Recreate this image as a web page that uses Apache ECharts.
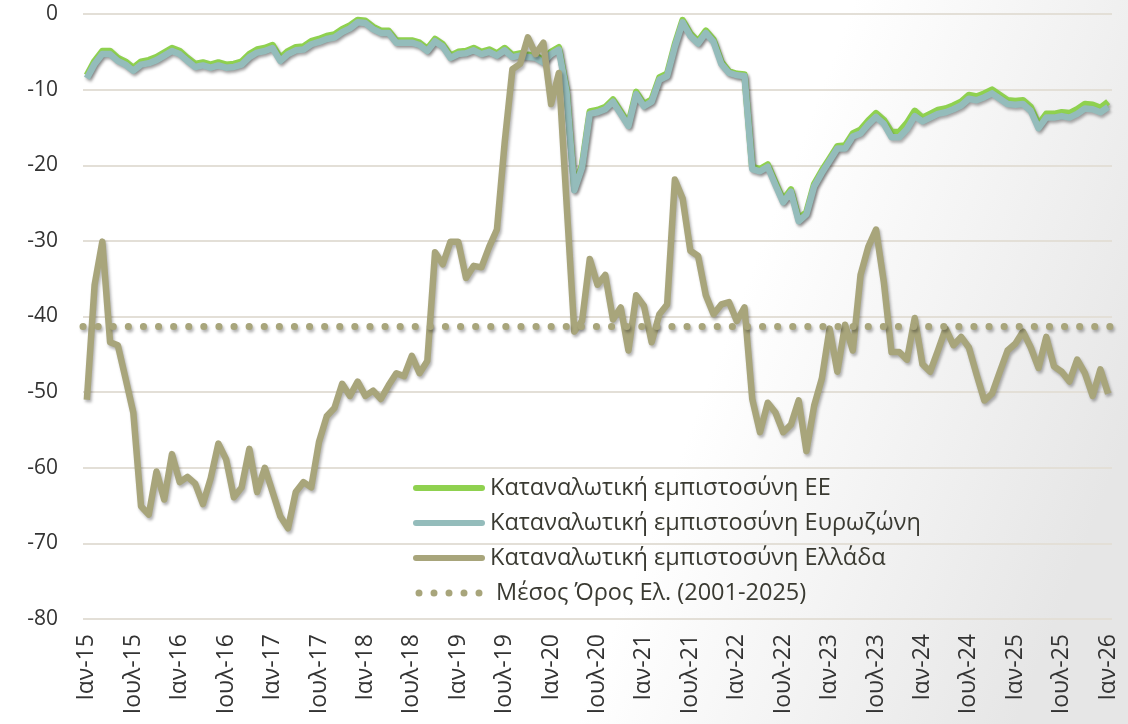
<!DOCTYPE html>
<html>
<head>
<meta charset="utf-8">
<script src="https://cdn.jsdelivr.net/npm/echarts@6/dist/echarts.min.js"></script>
<style>
  html, body { margin: 0; padding: 0; background: #fff; }
  #main { width: 1128px; height: 724px; }
</style>
</head>
<body>
<div id="main"></div>
<script>
// monthly, Ιαν-15 .. Ιαν-26
var monthNames = ['Ιαν', 'Φεβ', 'Μαρ', 'Απρ', 'Μαϊ', 'Ιουν', 'Ιουλ', 'Αυγ', 'Σεπ', 'Οκτ', 'Νοε', 'Δεκ'];
var startYear = 2015;
var monthCount = 133;

var seriesNames = [
    'Καταναλωτική εμπιστοσύνη ΕΕ',
    'Καταναλωτική εμπιστοσύνη Ευρωζώνη',
    'Καταναλωτική εμπιστοσύνη Ελλάδα',
    ' Μέσος Όρος Ελ. (2001-2025)'
];

var euValues = [
    -8.1, -6.2, -4.9, -4.9, -5.8, -6.3, -7.1, -6.3, -6.1, -5.7, -5.1, -4.5,
    -4.9, -5.8, -6.6, -6.4, -6.7, -6.4, -6.7, -6.6, -6.3, -5.3, -4.7, -4.5,
    -4.1, -5.8, -4.9, -4.4, -4.3, -3.6, -3.3, -2.9, -2.7, -2.0, -1.5, -0.8,
    -0.9, -1.7, -2.2, -2.2, -3.5, -3.5, -3.5, -3.8, -4.6, -3.3, -4.0, -5.5,
    -5.0, -4.9, -4.5, -5.0, -4.7, -5.2, -4.5, -5.4, -5.2, -5.4, -5.5, -6.1,
    -5.0, -4.4, -10.0, -23.0, -20.0, -12.9, -12.7, -12.3, -11.3, -12.9, -14.5, -10.3,
    -11.9, -11.3, -8.4, -7.9, -4.0, -0.8, -2.6, -3.6, -2.2, -3.4, -6.3, -7.6,
    -7.9, -8.0, -20.2, -20.5, -19.9, -22.3, -24.6, -23.2, -27.1, -26.2, -22.5, -20.7,
    -19.1, -17.5, -17.4, -15.8, -15.3, -14.1, -13.1, -14.0, -15.6, -15.6, -14.4, -12.8,
    -13.7, -13.2, -12.7, -12.5, -12.1, -11.6, -10.7, -10.9, -10.5, -10.0, -10.7, -11.4,
    -11.5, -11.4, -12.3, -14.6, -13.2, -13.2, -13.0, -13.1, -12.6, -11.9, -12.0, -12.4,
    -11.6
];

var eaValues = [
    -8.5, -6.6, -5.3, -5.3, -6.2, -6.7, -7.5, -6.7, -6.5, -6.1, -5.5, -4.9,
    -5.3, -6.2, -7.0, -6.8, -7.1, -6.8, -7.1, -7.0, -6.7, -5.7, -5.1, -4.9,
    -4.5, -6.2, -5.3, -4.8, -4.7, -4.0, -3.7, -3.3, -3.1, -2.4, -1.9, -1.1,
    -1.2, -2.0, -2.5, -2.5, -3.8, -3.8, -3.8, -4.1, -4.9, -3.6, -4.3, -5.8,
    -5.3, -5.2, -4.8, -5.3, -5.0, -5.5, -4.8, -5.7, -5.5, -5.7, -5.8, -6.4,
    -5.3, -4.7, -10.3, -23.3, -20.3, -13.2, -13.0, -12.6, -11.6, -13.2, -14.8, -10.6,
    -12.2, -11.6, -8.7, -8.2, -4.3, -1.1, -2.9, -3.9, -2.5, -3.7, -6.6, -7.8,
    -8.1, -8.2, -20.5, -20.8, -20.2, -22.6, -24.9, -23.5, -27.4, -26.5, -22.8, -21.0,
    -19.4, -17.8, -17.8, -16.2, -15.8, -14.6, -13.6, -14.5, -16.3, -16.3, -15.2, -13.5,
    -14.2, -13.7, -13.2, -13.0, -12.6, -12.1, -11.2, -11.4, -11.0, -10.5, -11.2, -11.9,
    -12.0, -11.9, -12.8, -15.1, -13.7, -13.7, -13.5, -13.7, -13.2, -12.5, -12.6, -13.0,
    -12.3
];

var grValues = [
    -51.0, -35.8, -30.1, -43.4, -43.8, -48.2, -52.7, -65.1, -66.2, -60.5, -64.2, -58.2,
    -61.9, -61.2, -62.1, -64.8, -61.4, -56.8, -58.9, -63.9, -62.6, -57.5, -63.2, -60.0,
    -63.2, -66.4, -68.0, -63.2, -61.9, -62.6, -56.6, -53.2, -52.1, -48.9, -50.5, -48.6,
    -50.5, -49.8, -50.9, -49.1, -47.5, -47.9, -45.2, -47.5, -45.9, -31.5, -33.1, -30.1,
    -30.1, -34.9, -33.3, -33.5, -30.8, -28.5, -17.0, -7.3, -6.6, -3.1, -5.3, -3.8,
    -11.9, -7.8, -25.0, -42.0, -40.6, -32.4, -35.8, -34.5, -40.4, -38.8, -44.5, -37.2,
    -38.6, -43.4, -39.7, -38.4, -21.9, -24.4, -31.3, -32.0, -37.2, -39.7, -38.4, -38.1,
    -40.6, -38.8, -50.9, -55.3, -51.4, -52.7, -55.3, -54.3, -51.1, -57.8, -51.8, -48.2,
    -41.6, -47.3, -41.1, -44.5, -34.5, -30.8, -28.5, -35.4, -44.7, -44.7, -45.7, -40.2,
    -46.3, -47.3, -44.5, -41.6, -43.8, -42.7, -44.1, -47.7, -51.1, -50.2, -47.3, -44.5,
    -43.6, -42.0, -44.1, -46.8, -42.7, -46.6, -47.3, -48.6, -45.7, -47.5, -50.5, -47.0,
    -50.2
];

var grMean = -41.3;

var categories = [];
for (var i = 0; i < monthCount; i++) {
    var y = startYear + Math.floor(i / 12);
    categories.push(monthNames[i % 12] + '-' + String(y).slice(2));
}

var shadow = {
    shadowColor: 'rgba(0, 0, 0, 0.3)',
    shadowBlur: 3,
    shadowOffsetX: 1.5,
    shadowOffsetY: 2.5
};

// legend icons: thick bar for lines, five dots for the mean
var barIcon = 'path://M3,0 L69,0 A3,3 0 0,1 69,6 L3,6 A3,3 0 0,1 3,0 Z';
var dotIcon = 'path://M0,3.5 a3.5,3.5 0 1,0 7,0 a3.5,3.5 0 1,0 -7,0 Z' +
    ' M15,3.5 a3.5,3.5 0 1,0 7,0 a3.5,3.5 0 1,0 -7,0 Z' +
    ' M30,3.5 a3.5,3.5 0 1,0 7,0 a3.5,3.5 0 1,0 -7,0 Z' +
    ' M45,3.5 a3.5,3.5 0 1,0 7,0 a3.5,3.5 0 1,0 -7,0 Z' +
    ' M60,3.5 a3.5,3.5 0 1,0 7,0 a3.5,3.5 0 1,0 -7,0 Z';

function lineSeries(name, data, color) {
    return {
        name: name,
        type: 'line',
        data: data,
        symbol: 'none',
        showSymbol: false,
        color: color,
        itemStyle: { color: color },
        lineStyle: Object.assign({ color: color, width: 6.5, join: 'round' }, shadow),
        silent: true
    };
}

var chart = echarts.init(document.getElementById('main'));

chart.setOption({
    animation: false,
    backgroundColor: {
        type: 'linear', x: 0, y: 0, x2: 1, y2: 0.6,
        colorStops: [
            { offset: 0, color: '#ffffff' },
            { offset: 0.66, color: '#ffffff' },
            { offset: 1, color: '#e6e6e6' }
        ]
    },
    textStyle: { fontFamily: 'Open Sans' },
    grid: { left: 83, right: 16, top: 14, bottom: 105 },
    legend: {
        data: [
            { name: seriesNames[0], icon: barIcon },
            { name: seriesNames[1], icon: barIcon },
            { name: seriesNames[2], icon: barIcon },
            { name: seriesNames[3], icon: dotIcon }
        ],
        orient: 'vertical',
        left: 408,
        top: 469,
        itemWidth: 72,
        itemHeight: 7,
        itemGap: 7,
        lineStyle: { opacity: 0, shadowBlur: 0, shadowOffsetX: 0, shadowOffsetY: 0 },
        textStyle: { fontSize: 23.5, color: '#3a3a32', lineHeight: 28, fontFamily: 'Open Sans' }
    },
    xAxis: {
        type: 'category',
        data: categories,
        boundaryGap: true,
        axisLine: { show: false },
        axisTick: { show: false },
        axisLabel: {
            interval: 5,
            rotate: 90,
            margin: 15,
            fontSize: 23,
            color: '#333',
            fontFamily: 'Open Sans'
        }
    },
    yAxis: {
        type: 'value',
        min: -80,
        max: 0,
        interval: 10,
        axisLine: { show: false },
        axisTick: { show: false },
        axisLabel: { fontSize: 21, color: '#333', margin: 25, fontFamily: 'Open Sans' },
        splitLine: { lineStyle: { color: '#e3dfd7', width: 2 } }
    },
    series: [
        {
            // mean of the Greek index, drawn as a dotted horizontal line
            name: seriesNames[3],
            type: 'scatter',
            data: [],
            color: '#a8a57b',
            itemStyle: { color: '#a8a57b', opacity: 1 },
            silent: true,
            markLine: {
                silent: true,
                symbol: 'none',
                label: { show: false },
                lineStyle: Object.assign({ color: '#a8a57b', width: 7, type: [0.1, 15], cap: 'round' }, shadow),
                data: [{ yAxis: grMean }]
            }
        },
        lineSeries(seriesNames[0], euValues, '#8fd14f'),
        lineSeries(seriesNames[1], eaValues, '#94bcbb'),
        lineSeries(seriesNames[2], grValues, '#a8a57b')
    ]
});
</script>
</body>
</html>
